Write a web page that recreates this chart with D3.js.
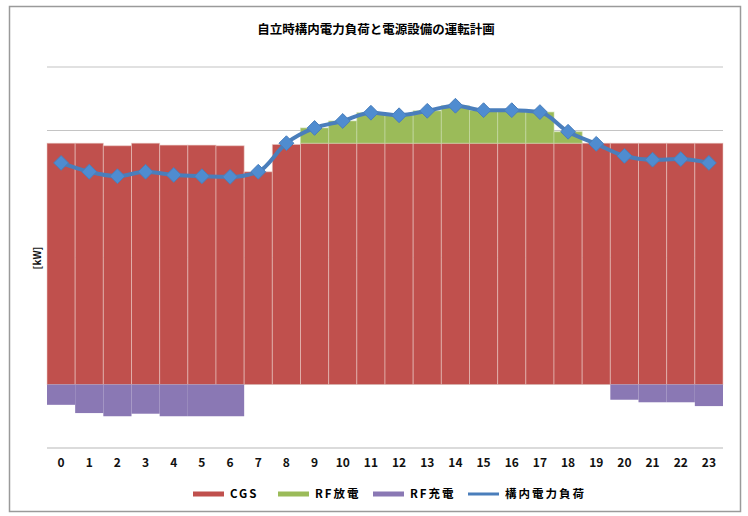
<!DOCTYPE html>
<html>
<head>
<meta charset="utf-8">
<script src="https://cdn.jsdelivr.net/npm/d3@7"></script>
<style>
  html, body { margin: 0; padding: 0; background: #fff; }
  svg { display: block; }
  text { font-family: "Noto Sans CJK JP", "Liberation Sans", sans-serif; }
</style>
</head>
<body>
<svg id="chart" width="748" height="516"></svg>
<script>
// Hourly operating plan (kW)
const hours = d3.range(0, 24);
const cgs = [380, 380, 376, 380, 377, 377, 376, 335, 378, 380, 380, 380,
             380, 380, 380, 380, 380, 380, 380, 380, 380, 380, 380, 380];
const rfDischarge = [0, 0, 0, 0, 0, 0, 0, 0, 0, 24, 35, 48,
                     44, 51, 59, 52, 52, 49, 18, 0, 0, 0, 0, 0];
const rfCharge = [-32, -45, -50, -46, -50, -50, -50, 0, 0, 0, 0, 0,
                  0, 0, 0, 0, 0, 0, 0, 0, -24, -28, -28, -34];
const load = [349, 335, 328, 335, 330, 328, 327, 335, 380, 404, 415, 428,
              424, 431, 439, 432, 432, 429, 398, 379, 360, 354, 355, 349];
const gridTicks = [-100, 0, 100, 200, 300, 400, 500];

const seriesNames = ["CGS", "RF放電", "RF充電", "構内電力負荷"];
const colors = { cgs: "#c0504d", dis: "#9bbb59", chg: "#8a78b4", load: "#4a7ebb" };

const svg = d3.select("#chart");

// outer frame
svg.append("rect")
  .attr("x", 9.5).attr("y", 6.5).attr("width", 731).attr("height", 505)
  .attr("fill", "#fff").attr("stroke", "#9a9a9a").attr("stroke-width", 1.5);

const x = d3.scaleBand().domain(hours).range([47, 723]).padding(0);
const y = d3.scaleLinear().domain([-100, 500]).range([448, 67]);

// horizontal gridlines
svg.append("g").selectAll("line")
  .data(gridTicks.filter(d => d > -100))
  .join("line")
  .attr("x1", 47).attr("x2", 723)
  .attr("y1", d => y(d)).attr("y2", d => y(d))
  .attr("stroke", "#c4c4c4").attr("stroke-width", 1.2);

// bars
const bars = svg.append("g");
const barStroke = "rgba(235,205,200,0.55)";
bars.selectAll("rect.cgs").data(hours).join("rect").attr("class", "cgs")
  .attr("x", d => x(d)).attr("width", x.bandwidth())
  .attr("y", d => y(cgs[d])).attr("height", d => y(0) - y(cgs[d]))
  .attr("fill", colors.cgs).attr("stroke", barStroke).attr("stroke-width", 1);

bars.selectAll("rect.dis").data(hours.filter(h => rfDischarge[h] > 0)).join("rect").attr("class", "dis")
  .attr("x", d => x(d)).attr("width", x.bandwidth())
  .attr("y", d => y(cgs[d] + rfDischarge[d])).attr("height", d => y(cgs[d]) - y(cgs[d] + rfDischarge[d]))
  .attr("fill", colors.dis).attr("stroke", "rgba(200,220,170,0.6)").attr("stroke-width", 1);

bars.selectAll("rect.chg").data(hours.filter(h => rfCharge[h] < 0)).join("rect").attr("class", "chg")
  .attr("x", d => x(d)).attr("width", x.bandwidth())
  .attr("y", y(0)).attr("height", d => y(rfCharge[d]) - y(0))
  .attr("fill", colors.chg);

// category axis line
svg.append("line")
  .attr("x1", 47).attr("x2", 723).attr("y1", y(-100)).attr("y2", y(-100))
  .attr("stroke", "#b8b8b8").attr("stroke-width", 1.2);

// hour labels
const xAxis = d3.axisBottom(x).tickSize(0).tickPadding(0);
const gx = svg.append("g").attr("transform", `translate(0,${y(-100) + 10})`).call(xAxis);
gx.select(".domain").remove();
gx.selectAll("text")
  .attr("dy", "0.71em")
  .attr("font-family", "Liberation Sans, Arial, sans-serif")
  .attr("font-weight", "bold").attr("font-size", 12).attr("fill", "#111");

// load line with diamond markers
const line = d3.line()
  .x(d => x(d) + x.bandwidth() / 2)
  .y(d => y(load[d]))
  .curve(d3.curveMonotoneX);
svg.append("path").datum(hours)
  .attr("d", line).attr("fill", "none")
  .attr("stroke", colors.load).attr("stroke-width", 4);

svg.append("g").selectAll("path").data(hours).join("path")
  .attr("d", d3.symbol(d3.symbolDiamond2, 140))
  .attr("transform", d => `translate(${x(d) + x.bandwidth() / 2},${y(load[d])})`)
  .attr("fill", "#4f8cd0").attr("stroke", "#4a7ebb").attr("stroke-width", 1);

// title
svg.append("text")
  .attr("x", 376).attr("y", 34).attr("text-anchor", "middle")
  .attr("font-size", 12.5).attr("font-weight", "bold").attr("fill", "#000")
  .text("自立時構内電力負荷と電源設備の運転計画");

// unit label
svg.append("text")
  .attr("transform", "translate(41,258) rotate(-90)")
  .attr("text-anchor", "middle")
  .attr("font-family", "Liberation Sans, Arial, sans-serif")
  .attr("font-size", 10).attr("font-weight", "bold").attr("fill", "#111")
  .text("[kW]");

// legend
const legendItems = [
  { name: seriesNames[0], color: colors.cgs, x0: 193, h: 5 },
  { name: seriesNames[1], color: colors.dis, x0: 278, h: 5 },
  { name: seriesNames[2], color: colors.chg, x0: 373, h: 5 },
  { name: seriesNames[3], color: colors.load, x0: 468, h: 3 }
];
const lg = svg.append("g");
legendItems.forEach(it => {
  lg.append("rect").attr("x", it.x0).attr("y", 494 - it.h / 2)
    .attr("width", 31).attr("height", it.h).attr("fill", it.color);
  lg.append("text").attr("x", it.x0 + 37).attr("y", 494).attr("dy", "0.36em")
    .attr("font-size", 11.5).attr("font-weight", "bold").attr("fill", "#000")
    .attr("letter-spacing", 2)
    .text(it.name);
});
</script>
</body>
</html>
